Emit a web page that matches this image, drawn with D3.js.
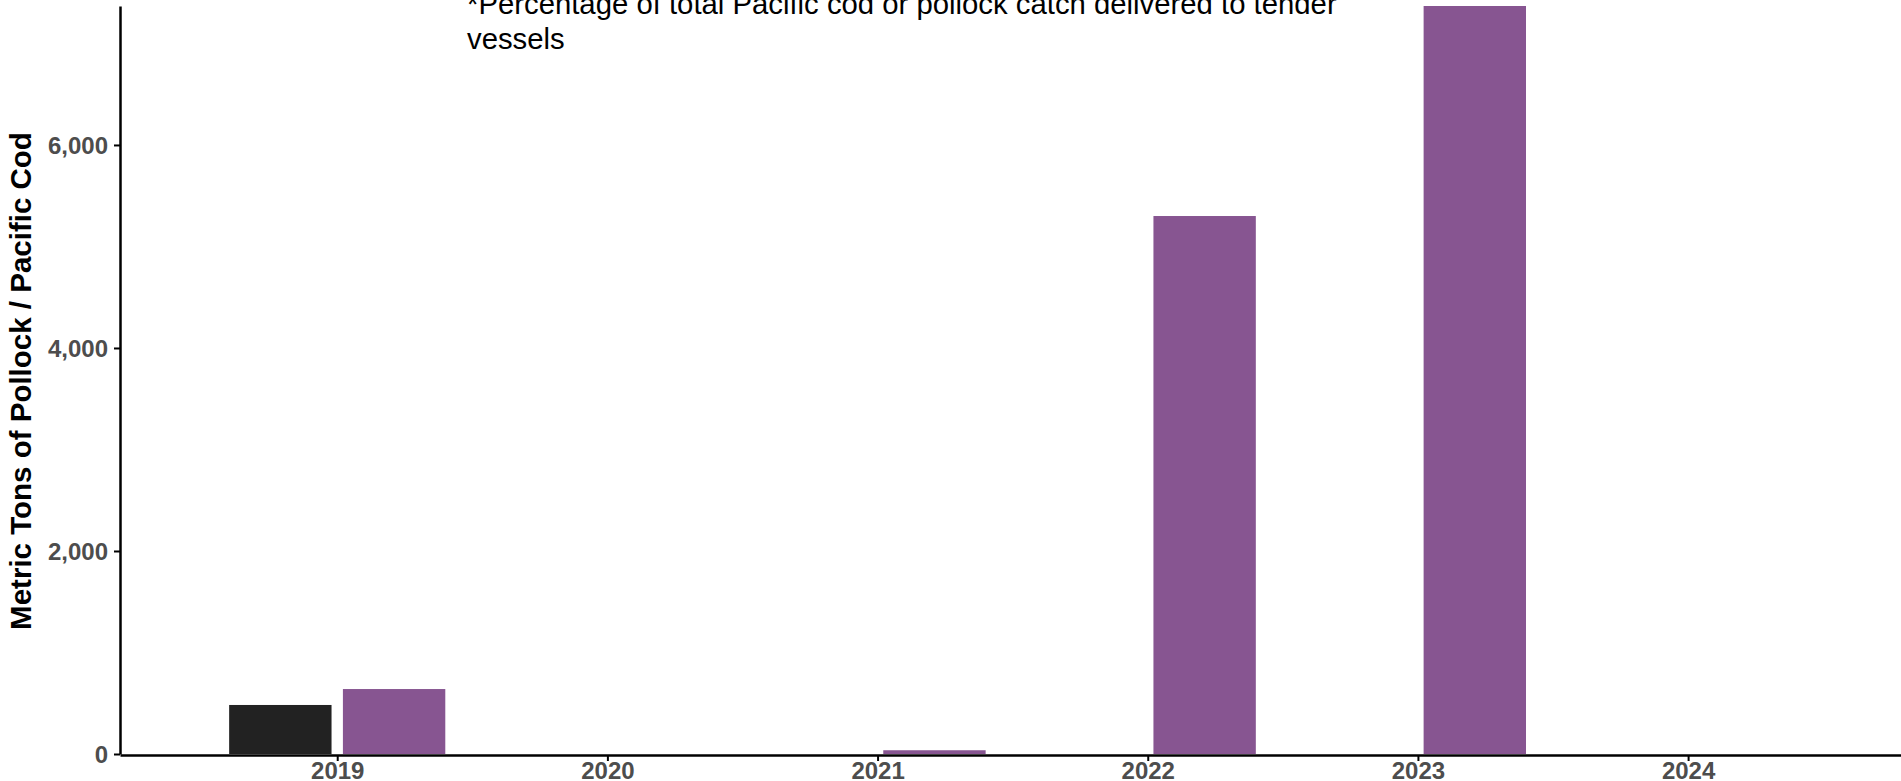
<!DOCTYPE html>
<html lang="en">

<head>
  <meta charset="utf-8">
  <title>Tender deliveries</title>
  <script type="text/javascript" src="https://cdn.jsdelivr.net/npm/d3@7"></script>
  <style>
    body { margin: 0; background: #fff; }
    svg { display: block; }
    .axis path, .axis line { stroke: #000; }
    .axis text { font-family: "Liberation Sans", Arial, sans-serif; font-weight: bold; font-size: 24px; fill: #4d4d4d; }
  </style>
</head>

<body>
  <svg class="chart"></svg>
  <script type="text/javascript">
    // data
    var years = [2019, 2020, 2021, 2022, 2023, 2024];
    var seriesNames = ["Pacific cod", "Pollock"];
    var codTons = [483, null, null, null, null, null];
    var pollockTons = [640, null, 37, 5300, 7369, null];
    var yTicks = [0, 2000, 4000, 6000];
    var noteLines = ["*Percentage of total Pacific cod or pollock catch delivered to tender", "vessels"];
    var yTitle = "Metric Tons of Pollock / Pacific Cod";

    var w = 1901;
    var h = 781;
    var padLeft = 120;
    var padTop = 6;
    var plotBottom = 754;
    var colors = ["#222222", "#875591"];

    var svg = d3.select("svg")
      .attr("width", w)
      .attr("height", h);

    // build rows from the arrays
    var rows = [];
    for (var i = 0; i < years.length; i++) {
      var vals = [codTons[i], pollockTons[i]];
      for (var j = 0; j < seriesNames.length; j++) {
        if (vals[j] != null) rows.push({ year: years[i], series: seriesNames[j], value: vals[j] });
      }
    }

    //Scale x
    var x = d3.scaleLinear()
      .domain([2018.196, 2024.788])
      .range([padLeft, w]);
    var step = x(2020) - x(2019);

    //inner dodge
    var xInner = d3.scaleBand()
      .domain(seriesNames)
      .range([-0.4 * step, 0.4 * step])
      .paddingInner(0.1);

    //Scale y
    var y = d3.scaleLinear()
      .domain([0, d3.max(pollockTons)])
      .range([plotBottom, padTop]);

    //Bars
    svg.selectAll("rect.bar")
      .data(rows)
      .enter()
      .append("rect")
      .attr("class", "bar")
      .attr("x", function(d) { return x(d.year) + xInner(d.series); })
      .attr("width", xInner.bandwidth())
      .attr("y", function(d) { return y(d.value); })
      .attr("height", function(d) { return plotBottom - y(d.value); })
      .attr("fill", function(d) { return colors[seriesNames.indexOf(d.series)]; });

    //Y axis
    var yAxis = d3.axisLeft(y)
      .tickValues(yTicks)
      .tickFormat(d3.format(","))
      .tickSize(6)
      .tickPadding(6)
      .tickSizeOuter(0);
    var gy = svg.append("g")
      .attr("class", "axis")
      .attr("transform", "translate(" + padLeft + ",0)")
      .call(yAxis);
    gy.select(".domain").attr("stroke-width", 2.5);
    gy.selectAll(".tick line").attr("stroke", "#333").attr("stroke-width", 2);
    gy.selectAll(".tick text").attr("dy", "0.36em");

    //X axis
    var xAxis = d3.axisBottom(x)
      .tickValues(years)
      .tickFormat(d3.format("d"))
      .tickSize(6)
      .tickPadding(1)
      .tickSizeOuter(0);
    var gx = svg.append("g")
      .attr("class", "axis")
      .attr("transform", "translate(0," + (plotBottom + 1) + ")")
      .call(xAxis);
    gx.select(".domain").attr("stroke-width", 2.5);
    gx.selectAll(".tick line").attr("stroke", "#333").attr("stroke-width", 2);

    //Y title
    svg.append("text")
      .attr("transform", "translate(31," + ((padTop + plotBottom) / 2 + 1) + ") rotate(-90)")
      .attr("text-anchor", "middle")
      .style("font-family", "'Liberation Sans', Arial, sans-serif")
      .style("font-weight", "bold")
      .style("font-size", "29.5px")
      .attr("fill", "#000")
      .text(yTitle);

    //note at the top
    svg.selectAll("text.note")
      .data(noteLines)
      .enter()
      .append("text")
      .attr("class", "note")
      .attr("x", 467)
      .attr("y", function(d, i) { return 13.5 + i * 35; })
      .style("font-family", "'Liberation Sans', Arial, sans-serif")
      .style("font-size", "29.3px")
      .attr("fill", "#000")
      .text(function(d) { return d; });
  </script>
</body>

</html>
